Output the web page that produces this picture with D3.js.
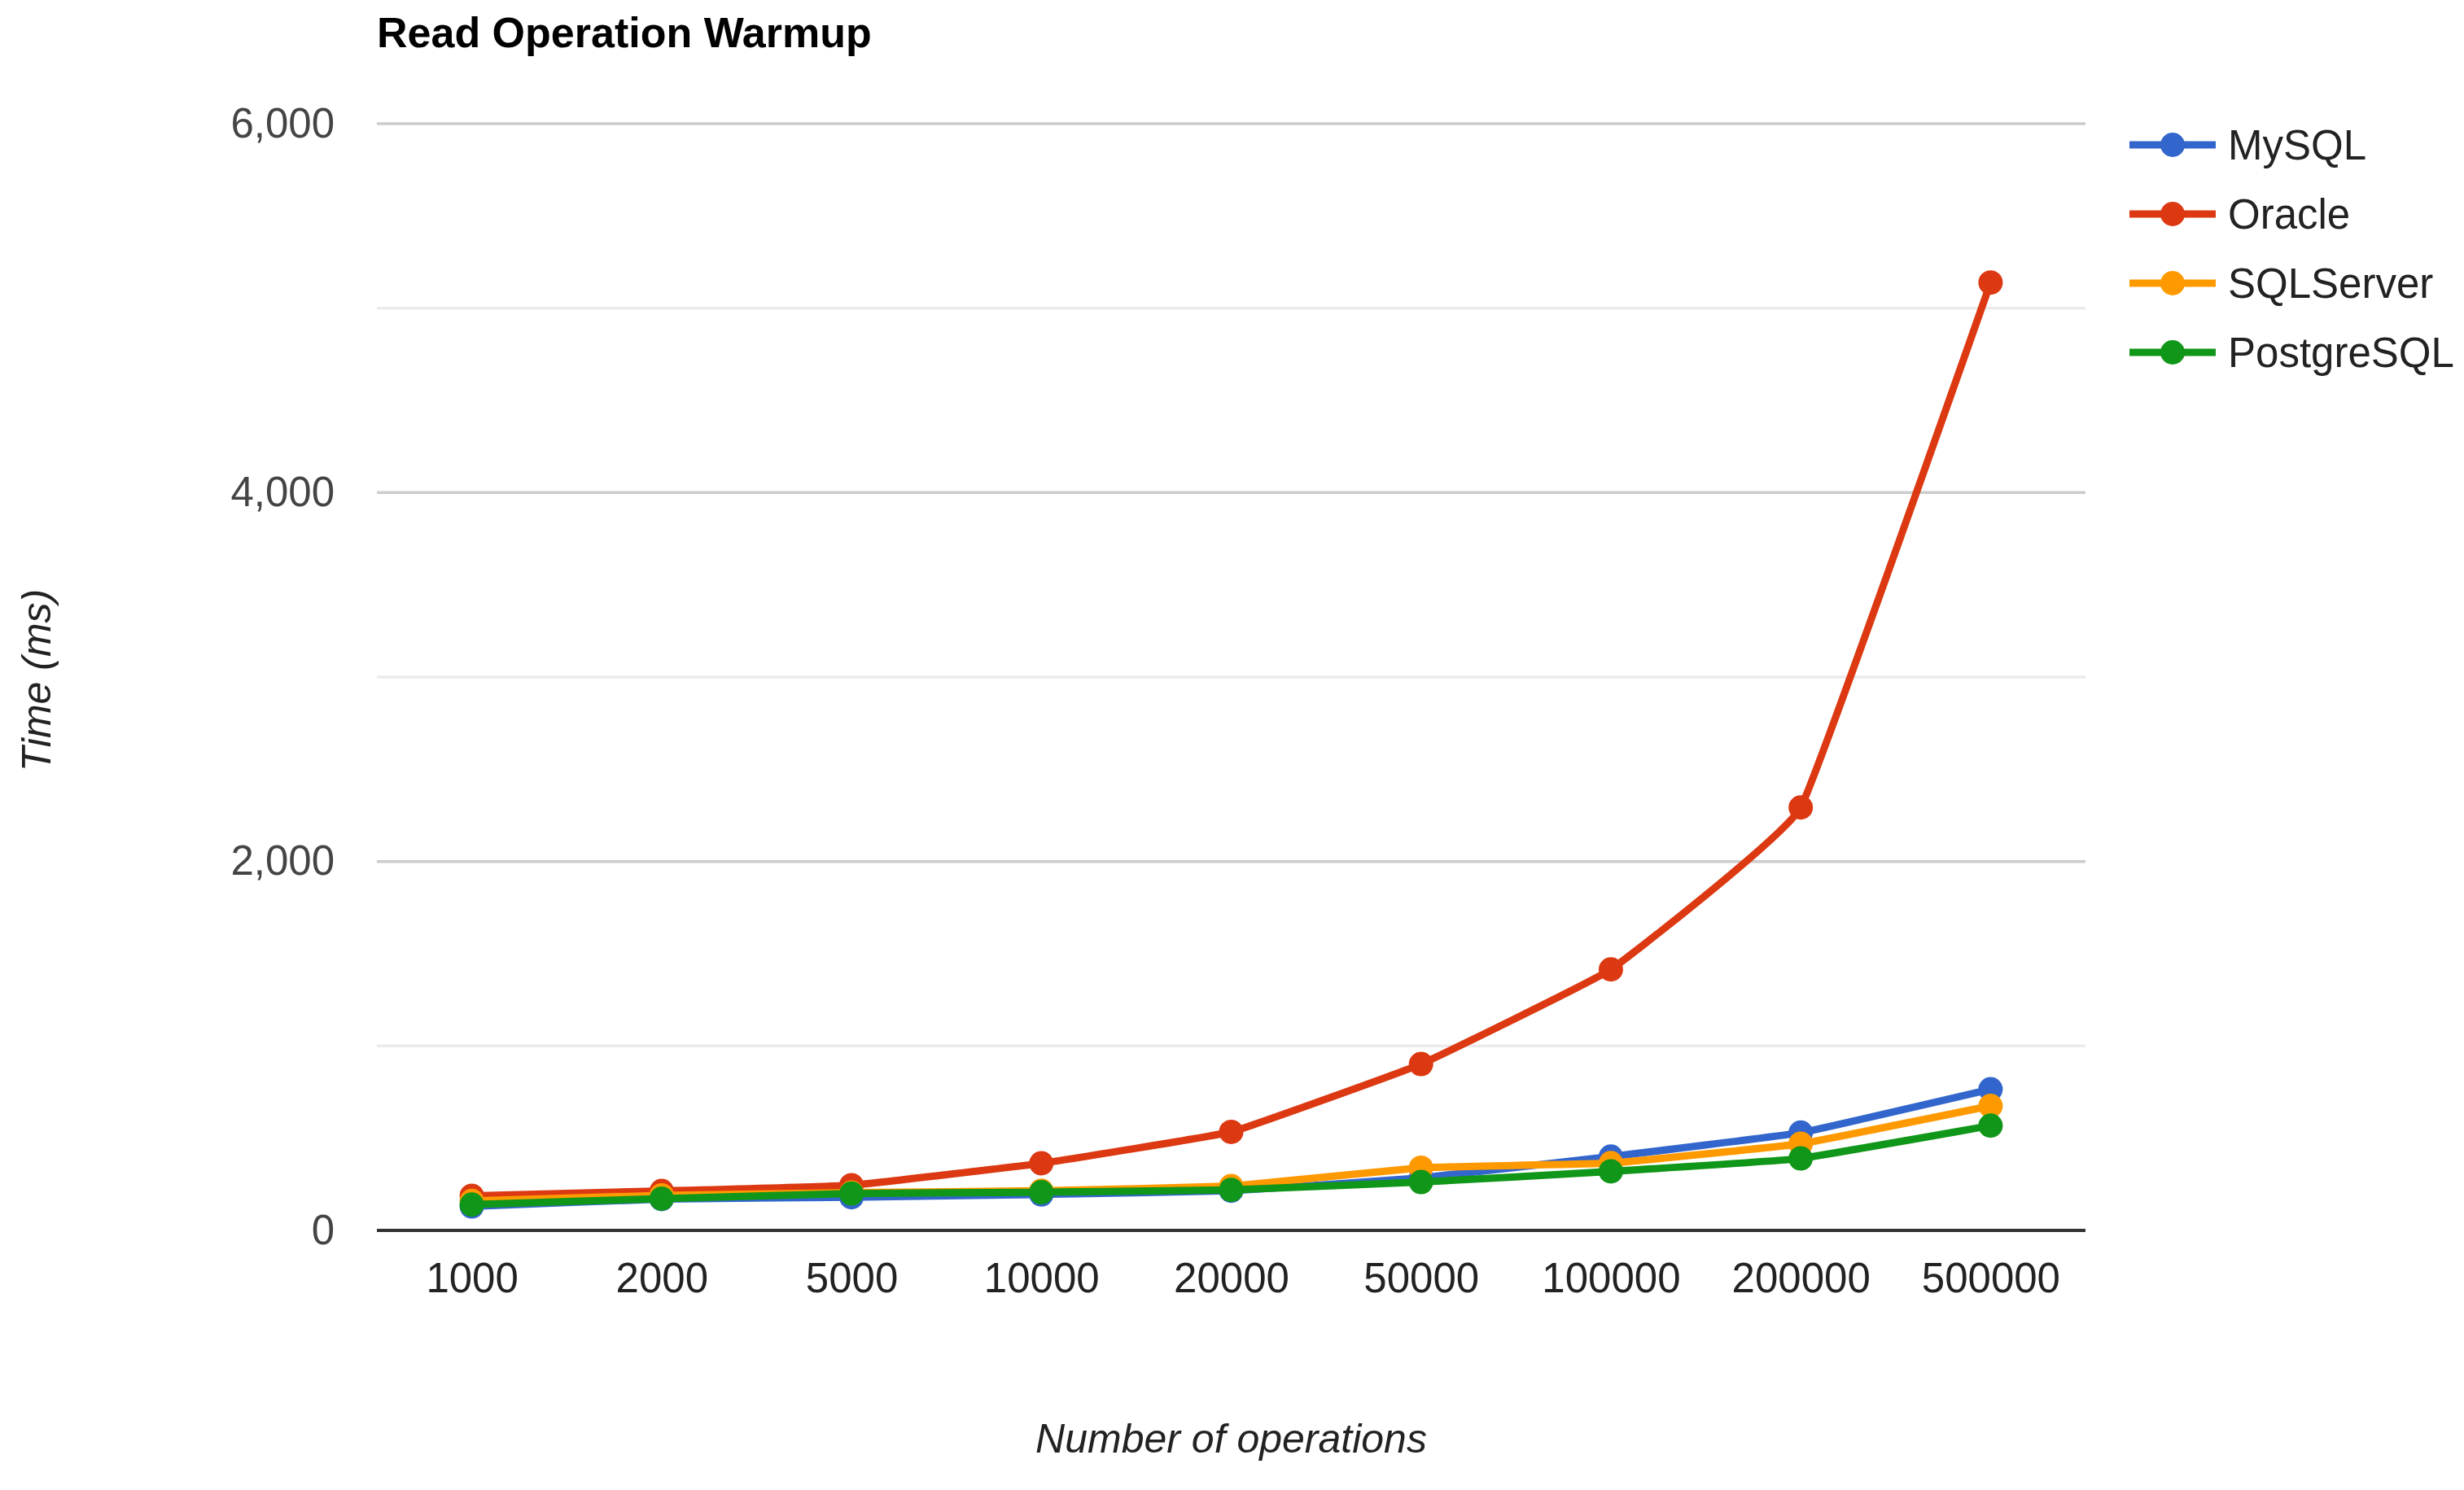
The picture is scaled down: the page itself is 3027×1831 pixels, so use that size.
<!DOCTYPE html>
<html>
<head>
<meta charset="utf-8">
<script src="https://cdn.jsdelivr.net/npm/d3@7"></script>
<style>
  html, body { margin: 0; padding: 0; background: #fff; }
  svg { display: block; font-family: "Liberation Sans", Arial, sans-serif; }
</style>
</head>
<body>
<div id="chart"></div>
<script>
const operations = ["1000", "2000", "5000", "10000", "20000", "50000", "100000", "200000", "500000"];
const seriesNames = ["MySQL", "Oracle", "SQLServer", "PostgreSQL"];
const mysql      = [130, 170, 180, 195, 215, 285, 400, 530, 765];
const oracle     = [188, 214, 245, 364, 534, 902, 1415, 2293, 5139];
const sqlserver  = [160, 190, 205, 215, 240, 340, 365, 470, 675];
const postgresql = [140, 172, 200, 207, 220, 262, 320, 390, 568];
const yTicks = [0, 2000, 4000, 6000];
const yMinor = [1000, 3000, 5000];
const colors = ["#3366cc", "#dc3912", "#ff9900", "#109618"];

const values = [mysql, oracle, sqlserver, postgresql];
const series = seriesNames.map((name, i) => ({
  name, color: colors[i],
  points: operations.map((op, j) => ({ op, v: values[i][j] }))
}));

const W = 3027, H = 1831;
const mLeft = 463, mRight = 2562, mTop = 152, mBottom = 1512;

const svg = d3.select("#chart").append("svg")
  .attr("width", W).attr("height", H)
  .attr("viewBox", [0, 0, W, H]);

const x = d3.scalePoint().domain(operations).range([mLeft, mRight]).padding(0.5);
const y = d3.scaleLinear().domain([0, 6000]).range([mBottom, mTop]);

// quadrillage
svg.append("g").selectAll("line").data(yMinor).join("line")
  .attr("x1", mLeft).attr("x2", mRight)
  .attr("y1", d => y(d)).attr("y2", d => y(d))
  .attr("stroke", "#ebebeb").attr("stroke-width", 3.5);

svg.append("g").selectAll("line").data(yTicks.filter(d => d > 0)).join("line")
  .attr("x1", mLeft).attr("x2", mRight)
  .attr("y1", d => y(d)).attr("y2", d => y(d))
  .attr("stroke", "#cccccc").attr("stroke-width", 3.5);

// axe y
const yAxis = svg.append("g")
  .attr("transform", `translate(${mLeft},0)`)
  .call(d3.axisLeft(y).tickValues(yTicks).tickFormat(d3.format(",")).tickSize(0).tickPadding(52));
yAxis.select(".domain").remove();
yAxis.selectAll("text").attr("font-size", 51).attr("fill", "#444").attr("font-family", null);

// axe x
const xAxis = svg.append("g")
  .attr("transform", `translate(0,${mBottom})`)
  .call(d3.axisBottom(x).tickSize(0).tickPadding(40));
xAxis.select(".domain").remove();
xAxis.selectAll("text").attr("font-size", 51).attr("fill", "#222").attr("font-family", null);

// ligne de base
svg.append("line")
  .attr("x1", mLeft).attr("x2", mRight)
  .attr("y1", y(0)).attr("y2", y(0))
  .attr("stroke", "#333").attr("stroke-width", 4);

const line = d3.line().curve(d3.curveCardinal.tension(0.75)).x(d => x(d.op)).y(d => y(d.v));

const sg = svg.append("g").selectAll("g").data(series).join("g");
sg.append("path")
  .attr("d", d => line(d.points))
  .attr("fill", "none")
  .attr("stroke", d => d.color)
  .attr("stroke-width", 9)
  .attr("stroke-linejoin", "round");
sg.selectAll("circle").data(d => d.points.map(p => ({ ...p, color: d.color }))).join("circle")
  .attr("cx", d => x(d.op)).attr("cy", d => y(d.v))
  .attr("r", 15)
  .attr("fill", d => d.color);

// titres
svg.append("text")
  .attr("x", mLeft).attr("y", 58)
  .attr("font-size", 52).attr("font-weight", "bold").attr("fill", "#000")
  .text("Read Operation Warmup");

svg.append("text")
  .attr("transform", `translate(62,${(mTop + mBottom) / 2 + 4}) rotate(-90)`)
  .attr("text-anchor", "middle")
  .attr("font-size", 50).attr("font-style", "italic").attr("fill", "#222")
  .text("Time (ms)");

svg.append("text")
  .attr("x", (mLeft + mRight) / 2).attr("y", 1785)
  .attr("text-anchor", "middle")
  .attr("font-size", 50).attr("font-style", "italic").attr("fill", "#222")
  .text("Number of operations");

// légende
const legend = svg.append("g").selectAll("g").data(series).join("g")
  .attr("transform", (d, i) => `translate(2616,${178 + i * 85})`);
legend.append("line")
  .attr("x1", 0).attr("x2", 106)
  .attr("stroke", d => d.color).attr("stroke-width", 9);
legend.append("circle")
  .attr("cx", 53).attr("r", 15).attr("fill", d => d.color);
legend.append("text")
  .attr("x", 121).attr("dy", "0.35em")
  .attr("font-size", 51).attr("fill", "#222")
  .text(d => d.name);
</script>
</body>
</html>
